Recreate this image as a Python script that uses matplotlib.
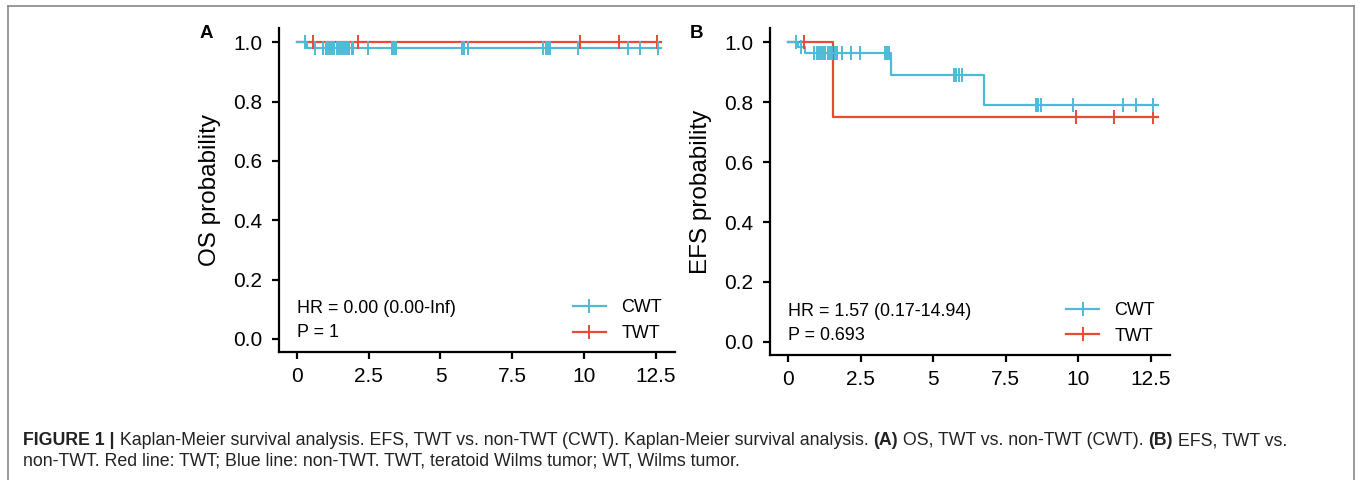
import numpy as np
import matplotlib.pyplot as plt
from matplotlib.lines import Line2D

plt.rcParams['font.family'] = ['Liberation Sans', 'DejaVu Sans']

# colores (paleta npg)
ROJO = '#E64B35'
AZUL = '#4DBBD5'

# ---- datos ----
# A: supervivencia global (OS)
os_cwt_t = [0, 0.34]
os_cwt_s = [1.0, 0.982]
os_cwt_fin = 12.7
os_cwt_cens = [0.28, 0.62, 0.92, 1.0, 1.08, 1.15, 1.22, 1.3, 1.38, 1.45, 1.52,
               1.6, 1.68, 1.75, 1.82, 1.9, 1.96, 2.46, 3.32, 3.38, 3.44, 5.74,
               5.82, 5.95, 8.58, 8.66, 8.74, 8.82, 9.8, 11.52, 11.95, 12.59]
os_twt_t = [0]
os_twt_s = [1.0]
os_twt_fin = 12.7
os_twt_cens = [0.55, 2.14, 9.86, 11.22, 12.53]

# B: supervivencia libre de eventos (EFS)
efs_cwt_t = [0, 0.32, 0.59, 3.53, 6.76]
efs_cwt_s = [1.0, 0.984, 0.966, 0.89, 0.792]
efs_cwt_fin = 12.77
efs_cwt_cens = [0.28, 0.45, 0.9, 0.98, 1.05, 1.12, 1.2, 1.28, 1.36, 1.44, 1.52,
                1.6, 1.68, 1.86, 2.17, 2.47, 3.33, 3.4, 3.47, 5.72, 5.8, 5.88,
                5.98, 8.55, 8.62, 8.72, 9.82, 11.55, 11.99, 12.59]
efs_twt_t = [0, 1.55]
efs_twt_s = [1.0, 0.75]
efs_twt_fin = 12.77
efs_twt_cens = [0.53, 9.92, 11.24, 12.57]

x_ticks = [0, 2.5, 5, 7.5, 10, 12.5]
x_labels = ['0', '2.5', '5', '7.5', '10', '12.5']
y_ticks = [0.0, 0.2, 0.4, 0.6, 0.8, 1.0]


def curva_km(ax, t, s, fin, cens, color):
    tt = list(t) + [fin]
    ss = list(s) + [s[-1]]
    ax.step(tt, ss, where='post', color=color, lw=1.6, zorder=3)
    idx = np.searchsorted(t, cens, side='right') - 1
    ax.plot(cens, np.array(s)[idx], ls='none', marker='|', ms=9.5,
            mew=1.4, color=color, zorder=4)


def panel(ax, letra, ylab, cwt, twt, hr, p, leg_x):
    curva_km(ax, *twt, ROJO)
    curva_km(ax, *cwt, AZUL)
    ax.set_xlim(-0.63, 13.17)
    ax.set_ylim(-0.044, 1.048)
    ax.set_xticks(x_ticks)
    ax.set_xticklabels(x_labels)
    ax.set_yticks(y_ticks)
    ax.set_yticklabels(['%.1f' % v for v in y_ticks])
    for lado in ['top', 'right']:
        ax.spines[lado].set_visible(False)
    for lado in ['left', 'bottom']:
        ax.spines[lado].set_linewidth(1.6)
    ax.tick_params(length=5, width=1.6, labelsize=15, colors='black')
    ax.tick_params(axis='y', pad=7)
    ax.tick_params(axis='x', pad=6)
    ax.set_ylabel(ylab, fontsize=17.5, labelpad=9)
    ax.text(0.045, 0.134, hr, transform=ax.transAxes, fontsize=12.9, va='center')
    ax.text(0.045, 0.06, p, transform=ax.transAxes, fontsize=12.9, va='center')
    handles = [Line2D([], [], color=AZUL, lw=1.6, marker='|', ms=9.5, mew=1.4),
               Line2D([], [], color=ROJO, lw=1.6, marker='|', ms=9.5, mew=1.4)]
    ax.legend(handles, ['CWT', 'TWT'], loc='center left',
              bbox_to_anchor=(leg_x, 0.097), frameon=False, fontsize=12.9,
              handlelength=1.85, handletextpad=0.85, labelspacing=0.5,
              borderpad=0, borderaxespad=0)
    ax.text(-0.2, 1.01, letra, transform=ax.transAxes, fontsize=13.5,
            fontweight='bold', va='top')


fig = plt.figure(figsize=(13.58, 4.8), dpi=100)
axA = fig.add_axes([0.2054, 0.2667, 0.2916, 0.675])
axB = fig.add_axes([0.567, 0.2604, 0.2946, 0.6813])

panel(axA, 'A', 'OS probability',
      (os_cwt_t, os_cwt_s, os_cwt_fin, os_cwt_cens),
      (os_twt_t, os_twt_s, os_twt_fin, os_twt_cens),
      'HR = 0.00 (0.00-Inf)', 'P = 1', 0.742)
panel(axB, 'B', 'EFS probability',
      (efs_cwt_t, efs_cwt_s, efs_cwt_fin, efs_cwt_cens),
      (efs_twt_t, efs_twt_s, efs_twt_fin, efs_twt_cens),
      'HR = 1.57 (0.17-14.94)', 'P = 0.693', 0.74)

# marco gris alrededor de la figura
W, H = 1358, 480
marco = dict(color='#888888', lw=1.2, transform=fig.transFigure)
fig.add_artist(Line2D([8 / W, 8 / W], [0, 1 - 6 / H], **marco))
fig.add_artist(Line2D([1354 / W, 1354 / W], [0, 1 - 6 / H], **marco))
fig.add_artist(Line2D([8 / W, 1354 / W], [1 - 6 / H, 1 - 6 / H], **marco))

# leyenda de la figura (texto con partes en negrita)
renderer = fig.canvas.get_renderer()


def linea_texto(x0, y0, partes):
    x = x0
    for txt, negrita in partes:
        t = fig.text(x, y0, txt, fontsize=12.75, color='#222222', va='baseline',
                     fontweight='bold' if negrita else 'normal')
        bb = t.get_window_extent(renderer=renderer)
        x = bb.x1 / W


linea_texto(23 / W, 1 - 445 / H, [
    ('FIGURE 1 |', True),
    (' Kaplan-Meier survival analysis. EFS, TWT vs. non-TWT (CWT). '
     'Kaplan-Meier survival analysis. ', False),
    ('(A)', True),
    (' OS, TWT vs. non-TWT (CWT). ', False),
    ('(B)', True),
    (' EFS, TWT vs.', False),
])
linea_texto(23 / W, 1 - 466 / H, [
    ('non-TWT. Red line: TWT; Blue line: non-TWT. TWT, teratoid Wilms tumor; '
     'WT, Wilms tumor.', False),
])

fig.savefig('out.png', dpi=100)
